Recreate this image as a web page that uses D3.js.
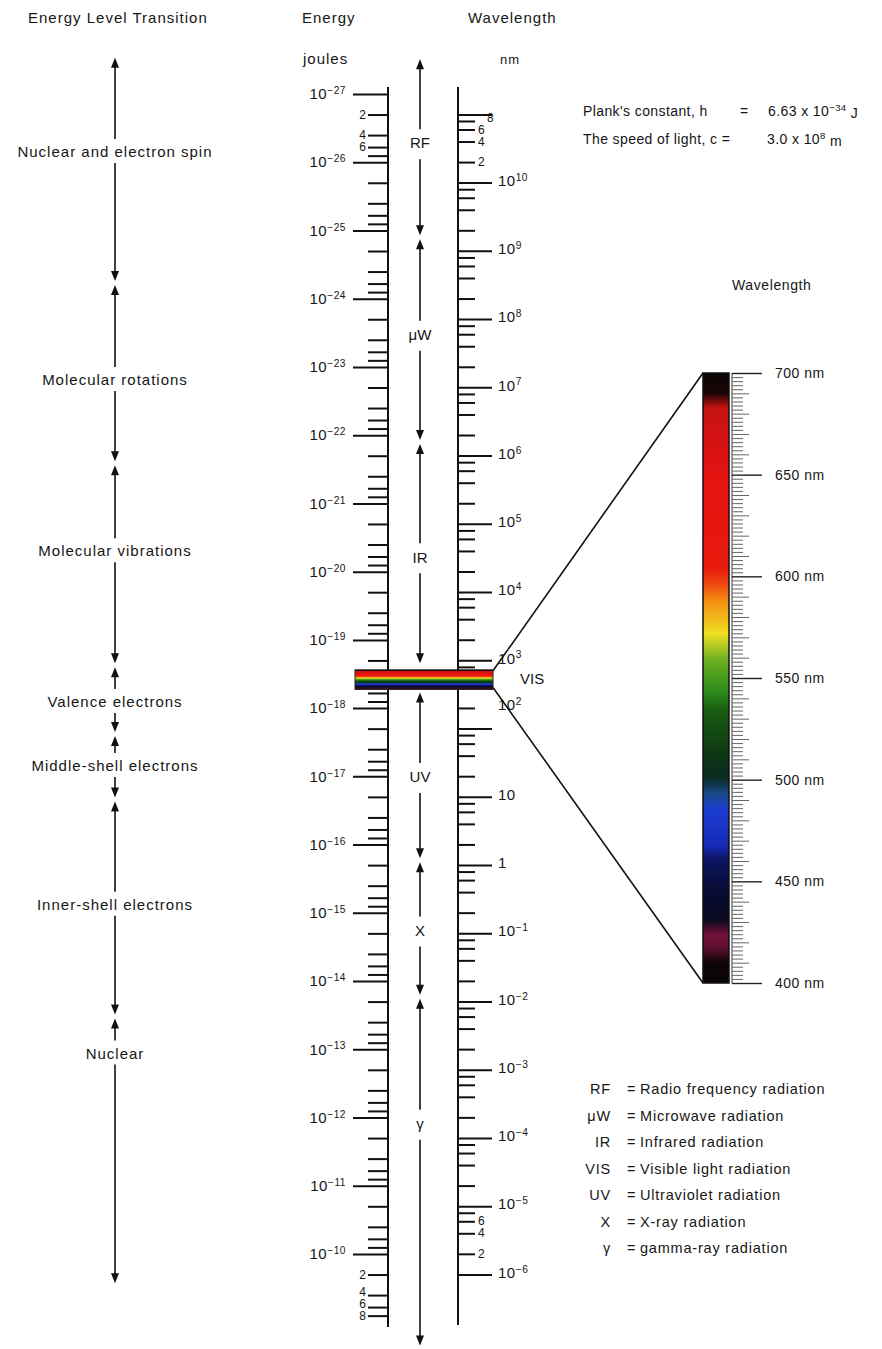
<!DOCTYPE html>
<html lang="en">
<head>
<meta charset="UTF-8">
<title>Energy and wavelength scale</title>
<style>
  body { margin: 0; background: #fff; }
  text { font-family: "Liberation Sans", Arial, sans-serif; fill: #161616; }
</style>
</head>
<body>
<script src="https://cdn.jsdelivr.net/npm/d3@7"></script>
<script>
const width = 882, height = 1349;

// constants printed on the chart
const planck = 6.63e-34;     // J s
const lightSpeed = 3.0e8;    // m/s

// energy axis (joules), decade exponents and minor steps
const energyDecades = d3.range(-27, -9);      // 10^-27 .. 10^-10
const minorSteps = [2, 4, 6, 8];
const energyTopLabels = [2, 4, 6];             // x 10^-27
const energyBottomLabels = [2, 4, 6, 8];       // x 10^-10

// wavelength axis (nm)
const waveDecades = d3.range(11, -7, -1);      // 10^11 .. 10^-6
const waveLabelled = d3.range(10, -7, -1);     // 10^10 .. 10^-6
const waveTopLabels = [8, 6, 4, 2];            // x 10^10
const waveBottomLabels = [6, 4, 2];            // x 10^-6

// energy level transitions, bounds as log10(E / J)
const transitions = ["Nuclear and electron spin", "Molecular rotations", "Molecular vibrations",
  "Valence electrons", "Middle-shell electrons", "Inner-shell electrons", "Nuclear"];
const transitionBounds = [-27.53, -24.23, -21.59, -18.63, -17.62, -16.66, -13.48, -9.57];
const transitionLabelAt = [-26.15, -22.81, -20.30, -18.09, -17.15, -15.12, -12.94];

// radiation regions, bounds as log10(E / J)
const regions = ["RF", "\u03bcW", "IR", "UV", "X", "\u03b3"];
const regionBounds = [[-27.54, -24.90], [-24.90, -21.90], [-21.90, -18.63],
  [-18.26, -15.77], [-15.77, -13.77], [-13.77, -8.63]];
const regionLabelAt = [-26.28, -23.47, -20.21, -16.99, -14.74, -11.91];

// visible light
const visibleRange = [400, 700];
const spectrumTicks = [400, 450, 500, 550, 600, 650, 700];
const spectrumNm = [700, 690, 683, 650, 604, 596, 588, 572, 559, 543, 534, 515, 501, 493, 485, 467, 461, 445, 431, 424, 418, 410, 400];
const spectrumColor = ["#0a0505", "#1c0606", "#c41212", "#e51212", "#e81a0c", "#ef4a10", "#f38c12", "#f0e022",
  "#6cb022", "#2c8c1c", "#1a5c12", "#0f3c12", "#0a2a22", "#1a4a88", "#1c3cd2", "#1629b4", "#0b1562",
  "#080c32", "#0a0a20", "#721038", "#621032", "#100508", "#080408"];

// legend
const legendKeys = ["RF", "\u03bcW", "IR", "VIS", "UV", "X", "\u03b3"];
const legendNames = ["Radio frequency radiation", "Microwave radiation", "Infrared radiation",
  "Visible light radiation", "Ultraviolet radiation", "X-ray radiation", "gamma-ray radiation"];

const hc = planck * lightSpeed;

const svg = d3.select('body').append('svg')
  .attr('width', width).attr('height', height)
  .style('display', 'block');

const xE = 388, xW = 458, xLevels = 115, xRegions = 420;

const yE = d3.scaleLog().domain([1e-27, 1e-10]).range([94, 1254]);
const yW = d3.scaleLog().domain([hc / 1e-27 * 1e9, hc / 1e-10 * 1e9]).range([94, 1254]);
const ySpec = d3.scaleLinear().domain(visibleRange).range([983, 373]);
const yExp = e => yE(Math.pow(10, e));
const mantissa = d => Math.round(d / Math.pow(10, Math.floor(Math.log10(d) + 1e-9)));

function powerLabel(sel, exp) {
  if (exp === 0) { sel.text('1'); return; }
  if (exp === 1) { sel.text('10'); return; }
  sel.append('tspan').text('10');
  sel.append('tspan').attr('dy', '-0.5em').attr('font-size', '0.68em')
    .text(exp < 0 ? '\u2212' + (-exp) : exp);
}

// push a sorted list of label y positions apart
function spread(ys, gap) {
  const out = ys.slice();
  for (let i = out.length - 2; i >= 0; i--) out[i] = Math.min(out[i], out[i + 1] - gap);
  return out;
}

function arrow(g, x, y1, y2, w) {
  const dir = Math.sign(y2 - y1), head = 10, hw = 4;
  if (Math.abs(y2 - y1) > head) {
    g.append('line').attr('x1', x).attr('x2', x).attr('y1', y1).attr('y2', y2 - dir * head * 0.7)
      .attr('stroke', '#111').attr('stroke-width', w || 1.6);
  }
  g.append('path')
    .attr('d', `M${x},${y2}L${x - hw},${y2 - dir * head}L${x + hw},${y2 - dir * head}Z`)
    .attr('fill', '#111');
}

// gradient for visible light
const grad = svg.append('defs').append('linearGradient')
  .attr('id', 'spectrum').attr('x1', 0).attr('y1', 0).attr('x2', 0).attr('y2', 1);
grad.selectAll('stop').data(spectrumNm).join('stop')
  .attr('offset', d => (visibleRange[1] - d) / (visibleRange[1] - visibleRange[0]))
  .attr('stop-color', (d, i) => spectrumColor[i]);

// headers
const hdr = svg.append('g').attr('font-size', 15).attr('letter-spacing', 1);
hdr.append('text').attr('x', 28).attr('y', 23).text('Energy Level Transition');
hdr.append('text').attr('x', 302).attr('y', 23).text('Energy');
hdr.append('text').attr('x', 303).attr('y', 64).text('joules');
hdr.append('text').attr('x', 468).attr('y', 23).text('Wavelength');
hdr.append('text').attr('x', 500).attr('y', 64).attr('font-size', 13).text('nm');

// energy axis
const eMajor = energyDecades.map(e => Math.pow(10, e));
const eMinor = energyDecades.flatMap(e => minorSteps.map(m => m * Math.pow(10, e)));
const energyAxis = svg.append('g').attr('transform', `translate(${xE},0)`);
energyAxis.append('g').call(d3.axisLeft(yE).tickValues(eMajor).tickSize(35).tickFormat(''));
energyAxis.append('g').call(d3.axisLeft(yE).tickValues(eMinor).tickSize(20).tickFormat(''));
energyAxis.selectAll('.domain').remove();
energyAxis.selectAll('.tick line').attr('stroke', '#111').attr('stroke-width', 2);
energyAxis.append('line').attr('y1', yE(1e-27) - 7).attr('y2', yE(1e-10) + 73)
  .attr('stroke', '#111').attr('stroke-width', 2);

energyAxis.selectAll('text.major').data(energyDecades).join('text')
  .attr('class', 'major')
  .attr('x', -42).attr('y', d => yExp(d)).attr('dy', '0.35em')
  .attr('text-anchor', 'end').attr('font-size', 15).attr('letter-spacing', 0.5)
  .each(function (d) { powerLabel(d3.select(this), d); });

[energyTopLabels.map(m => m * 1e-27), energyBottomLabels.map(m => m * 1e-10)].forEach(vals => {
  const ys = spread(vals.map(v => yE(v)), 12);
  energyAxis.selectAll(null).data(vals).join('text')
    .attr('x', -22).attr('y', (d, i) => ys[i]).attr('dy', '0.35em')
    .attr('text-anchor', 'end').attr('font-size', 12)
    .text(mantissa);
});

// wavelength axis
const wMajor = waveDecades.map(e => Math.pow(10, e));
const wMinor = waveDecades.flatMap(e => minorSteps.map(m => m * Math.pow(10, e)))
  .filter(v => v < 1e11 && v > 1e-6);
const waveAxis = svg.append('g').attr('transform', `translate(${xW},0)`);
waveAxis.append('g').call(d3.axisRight(yW).tickValues(wMajor).tickSize(34).tickFormat(''));
waveAxis.append('g').call(d3.axisRight(yW).tickValues(wMinor).tickSize(17).tickFormat(''));
waveAxis.selectAll('.domain').remove();
waveAxis.selectAll('.tick line').attr('stroke', '#111').attr('stroke-width', 2);
waveAxis.append('line').attr('y1', yE(1e-27) - 7).attr('y2', yE(1e-10) + 71)
  .attr('stroke', '#111').attr('stroke-width', 2);

waveAxis.selectAll('text.major').data(waveLabelled).join('text')
  .attr('class', 'major')
  .attr('x', 40).attr('y', d => yW(Math.pow(10, d)) + (d === 2 ? -24 : -2)).attr('dy', '0.35em')
  .attr('font-size', 15).attr('letter-spacing', 0.5)
  .each(function (d) { powerLabel(d3.select(this), d); });

[waveTopLabels.map(m => m * 1e10), waveBottomLabels.map(m => m * 1e-6)].forEach(vals => {
  const ys = vals.map(v => yW(v));
  // a label too close to the next one steps to the right, as a raised figure
  const crowded = ys.map((y, i) => i < ys.length - 1 && ys[i + 1] - y < 10);
  waveAxis.selectAll(null).data(vals).join('text')
    .attr('x', (d, i) => crowded[i] ? 29 : 20)
    .attr('y', (d, i) => crowded[i] ? ys[i] - 3 : ys[i]).attr('dy', '0.35em')
    .attr('font-size', 12)
    .text(mantissa);
});

// energy level transitions
const levels = svg.append('g');
transitions.forEach((name, i) => {
  const ly = yExp(transitionLabelAt[i]);
  const top = yExp(transitionBounds[i]) + (i === 0 ? 0 : 2);
  const bot = yExp(transitionBounds[i + 1]) - (i === transitions.length - 1 ? 0 : 2);
  arrow(levels, xLevels, ly - 13, top);
  arrow(levels, xLevels, ly + 11, bot);
  levels.append('text').attr('x', xLevels).attr('y', ly).attr('dy', '0.35em')
    .attr('text-anchor', 'middle').attr('font-size', 15).attr('letter-spacing', 1).text(name);
});

// radiation regions
const regs = svg.append('g');
regions.forEach((name, i) => {
  const ly = yExp(regionLabelAt[i]);
  arrow(regs, xRegions, ly - 14, yExp(regionBounds[i][0]) + 2);
  arrow(regs, xRegions, ly + 16, yExp(regionBounds[i][1]) - 2);
  regs.append('text').attr('x', xRegions).attr('y', ly).attr('dy', '0.35em')
    .attr('text-anchor', 'middle').attr('font-size', 15).text(name);
});

// visible band across both scales
const bandTop = yW(visibleRange[1]), bandBot = yW(visibleRange[0]);
const bandX0 = xE - 33, bandX1 = xW + 35;
svg.append('line').attr('x1', bandX1).attr('y1', bandTop).attr('x2', 703).attr('y2', ySpec(visibleRange[1]))
  .attr('stroke', '#111').attr('stroke-width', 1.6);
svg.append('line').attr('x1', bandX1).attr('y1', bandBot).attr('x2', 703).attr('y2', ySpec(visibleRange[0]))
  .attr('stroke', '#111').attr('stroke-width', 1.6);
svg.append('rect').attr('x', bandX0).attr('y', bandTop - 1).attr('width', bandX1 - bandX0)
  .attr('height', bandBot - bandTop + 3)
  .attr('fill', 'url(#spectrum)').attr('stroke', '#222').attr('stroke-width', 1);
svg.append('text').attr('x', 520).attr('y', (bandTop + bandBot) / 2).attr('dy', '0.35em')
  .attr('font-size', 15).text('VIS');

// visible spectrum close-up
const spec = svg.append('g');
spec.append('rect').attr('x', 703).attr('y', ySpec(700)).attr('width', 26)
  .attr('height', ySpec(400) - ySpec(700))
  .attr('fill', 'url(#spectrum)').attr('stroke', '#111').attr('stroke-width', 1.5);
spec.append('line').attr('x1', 732).attr('x2', 732).attr('y1', ySpec(700)).attr('y2', ySpec(400))
  .attr('stroke', '#333').attr('stroke-width', 1);
spec.selectAll('line.tk').data(d3.range(400, 701, 2)).join('line')
  .attr('class', 'tk')
  .attr('x1', 732).attr('x2', d => 732 + (d % 50 === 0 ? 30 : d % 10 === 0 ? 17 : 11))
  .attr('y1', d => ySpec(d) + 0.5).attr('y2', d => ySpec(d) + 0.5)
  .attr('stroke', d => d % 50 === 0 ? '#222' : '#666').attr('stroke-width', d => d % 50 === 0 ? 1.4 : 1);
spec.selectAll('text').data(spectrumTicks).join('text')
  .attr('x', 775).attr('y', d => ySpec(d)).attr('dy', '0.35em')
  .attr('font-size', 14).attr('letter-spacing', 0.5).text(d => d + ' nm');
svg.append('text').attr('x', 732).attr('y', 285).attr('dy', '0.35em')
  .attr('font-size', 14).attr('letter-spacing', 0.6).text('Wavelength');

// constants
const cst = svg.append('g').attr('font-size', 14).attr('letter-spacing', 0.4);
cst.append('text').attr('x', 583).attr('y', 111).attr('dy', '0.35em').text("Plank's constant, h");
cst.append('text').attr('x', 740).attr('y', 111).attr('dy', '0.35em').text('=');
const hText = cst.append('text').attr('x', 768).attr('y', 111).attr('dy', '0.35em');
hText.append('tspan').text('6.63 x 10');
hText.append('tspan').attr('dy', '-0.5em').attr('font-size', '0.68em').text('\u221234');
hText.append('tspan').attr('dy', '0.5em').text(' J');
cst.append('text').attr('x', 583).attr('y', 139).attr('dy', '0.35em').text('The speed of light, c =');
const cText = cst.append('text').attr('x', 767).attr('y', 139).attr('dy', '0.35em');
cText.append('tspan').text('3.0 x 10');
cText.append('tspan').attr('dy', '-0.5em').attr('font-size', '0.68em').text('8');
cText.append('tspan').attr('dy', '0.5em').text(' m');

// legend
const legend = svg.append('g').attr('font-size', 14.5).attr('letter-spacing', 0.8);
legendKeys.forEach((k, i) => {
  const y = 1089 + i * 26.5;
  legend.append('text').attr('x', 611).attr('y', y).attr('dy', '0.35em').attr('text-anchor', 'end').text(k);
  legend.append('text').attr('x', 627).attr('y', y).attr('dy', '0.35em').text('=');
  legend.append('text').attr('x', 640).attr('y', y).attr('dy', '0.35em').text(legendNames[i]);
});
</script>
</body>
</html>
